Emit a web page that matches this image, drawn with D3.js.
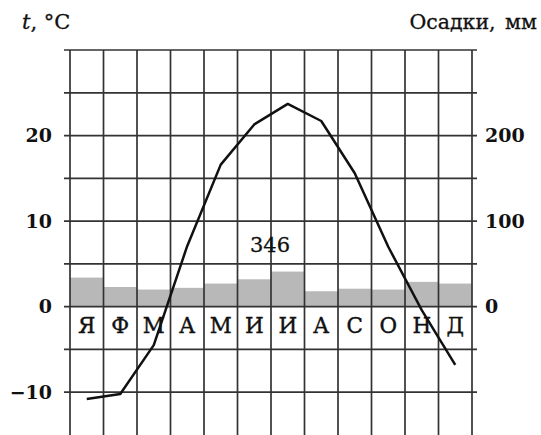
<!DOCTYPE html>
<html>
<head>
<meta charset="utf-8">
<script src="https://cdn.jsdelivr.net/npm/d3@7"></script>
<style>
  body { margin: 0; background: #fff; }
  svg { display: block; }
</style>
</head>
<body>
<svg id="chart" width="541" height="435"></svg>
<script>
// months, temperatures (°C) and precipitation (mm)
var months = ["Я", "Ф", "М", "А", "М", "И", "И", "А", "С", "О", "Н", "Д"];
var temps = [-10.8, -10.2, -4.5, 7.1, 16.6, 21.3, 23.7, 21.7, 15.6, 7.0, -0.4, -6.8];
var precip = [34, 23, 20, 22, 27, 32, 41, 18, 21, 20, 29, 27];
var tempTicks = [-10, 0, 10, 20];
var precipTicks = [0, 100, 200];
var gridTemps = [-10, -5, 0, 5, 10, 15, 20, 25, 30];
var totalLabel = "346";

var svg = d3.select("#chart");
var font = "'DejaVu Serif', serif";
var gridColor = "#333";
var ink = "#111";

// plot frame ("top" is taken by window.top, so prefix them)
var plotLeft = 70, plotRight = 472, plotTop = 50, plotBottom = 435;

var x = d3.scaleBand()
    .domain(d3.range(months.length))
    .range([plotLeft, plotRight])
    .paddingInner(0)
    .paddingOuter(0);

var y = d3.scaleLinear().domain([-15, 30]).range([plotBottom, plotTop]);
// 10 °C on the left matches 100 mm on the right
var y2 = d3.scaleLinear().domain([-150, 300]).range([plotBottom, plotTop]);

// precipitation bars
svg.append("g")
    .selectAll("rect")
    .data(precip)
    .enter().append("rect")
    .attr("x", function(d, i) { return x(i); })
    .attr("y", function(d) { return y2(d); })
    .attr("width", x.bandwidth())
    .attr("height", function(d) { return y2(0) - y2(d); })
    .attr("fill", "#b8b8b8");

// horizontal grid lines (with little ticks past the frame)
svg.append("g")
    .selectAll("line")
    .data(gridTemps)
    .enter().append("line")
    .attr("x1", plotLeft - 6)
    .attr("x2", plotRight + 5)
    .attr("y1", function(d) { return y(d); })
    .attr("y2", function(d) { return y(d); })
    .style("stroke", gridColor)
    .style("stroke-width", 1.7);

// vertical grid lines
var xEdges = d3.range(months.length).map(function(i) { return x(i); }).concat([plotRight]);
svg.append("g")
    .selectAll("line")
    .data(xEdges)
    .enter().append("line")
    .attr("x1", function(d) { return d; })
    .attr("x2", function(d) { return d; })
    .attr("y1", plotTop)
    .attr("y2", plotBottom)
    .style("stroke", gridColor)
    .style("stroke-width", 1.7);

// month letters under the zero line
svg.append("g")
    .selectAll("text")
    .data(months)
    .enter().append("text")
    .attr("x", function(d, i) { return x(i) + x.bandwidth() / 2; })
    .attr("y", y(0) + 26)
    .attr("text-anchor", "middle")
    .attr("font-family", font)
    .attr("font-size", 21.5)
    .attr("fill", ink)
    .attr("stroke", ink)
    .attr("stroke-width", 0.4)
    .text(function(d) { return d; });

// temperature line
var line = d3.line()
    .x(function(d, i) { return x(i) + x.bandwidth() / 2; })
    .y(function(d) { return y(d); });

svg.append("path")
    .datum(temps)
    .attr("d", line)
    .attr("fill", "none")
    .style("stroke", ink)
    .style("stroke-width", 2.5)
    .style("stroke-linejoin", "round");

// left axis labels
var leftAxis = svg.append("g")
    .attr("transform", "translate(" + plotLeft + ",0)")
    .call(d3.axisLeft(y).tickValues(tempTicks).tickSize(0).tickPadding(18)
        .tickFormat(function(d) { return d < 0 ? "\u2212" + Math.abs(d) : d; }));
leftAxis.select(".domain").remove();
leftAxis.selectAll("text")
    .attr("font-family", font)
    .attr("font-size", 19)
    .attr("font-weight", "bold")
    .attr("fill", ink);

// right axis labels
var rightAxis = svg.append("g")
    .attr("transform", "translate(" + plotRight + ",0)")
    .call(d3.axisRight(y2).tickValues(precipTicks).tickSize(0).tickPadding(13));
rightAxis.select(".domain").remove();
rightAxis.selectAll("text")
    .attr("font-family", font)
    .attr("font-size", 19)
    .attr("font-weight", "bold")
    .attr("fill", ink);

// annual total
svg.append("text")
    .attr("x", x(6) - 1)
    .attr("y", 252)
    .attr("text-anchor", "middle")
    .attr("font-family", font)
    .attr("font-size", 21)
    .attr("fill", ink)
    .attr("stroke", ink)
    .attr("stroke-width", 0.3)
    .text(totalLabel);

// axis titles
var tTitle = svg.append("text")
    .attr("x", 22)
    .attr("y", 29)
    .attr("font-family", font)
    .attr("font-size", 21)
    .attr("fill", ink)
    .attr("stroke", ink)
    .attr("stroke-width", 0.3);
tTitle.append("tspan").attr("font-style", "italic").text("t");
tTitle.append("tspan").text(", °C");

svg.append("text")
    .attr("x", 537)
    .attr("y", 29)
    .attr("text-anchor", "end")
    .attr("font-family", font)
    .attr("font-size", 20.5)
    .attr("word-spacing", 3)
    .attr("fill", ink)
    .attr("stroke", ink)
    .attr("stroke-width", 0.3)
    .text("Осадки, мм");
</script>
</body>
</html>
